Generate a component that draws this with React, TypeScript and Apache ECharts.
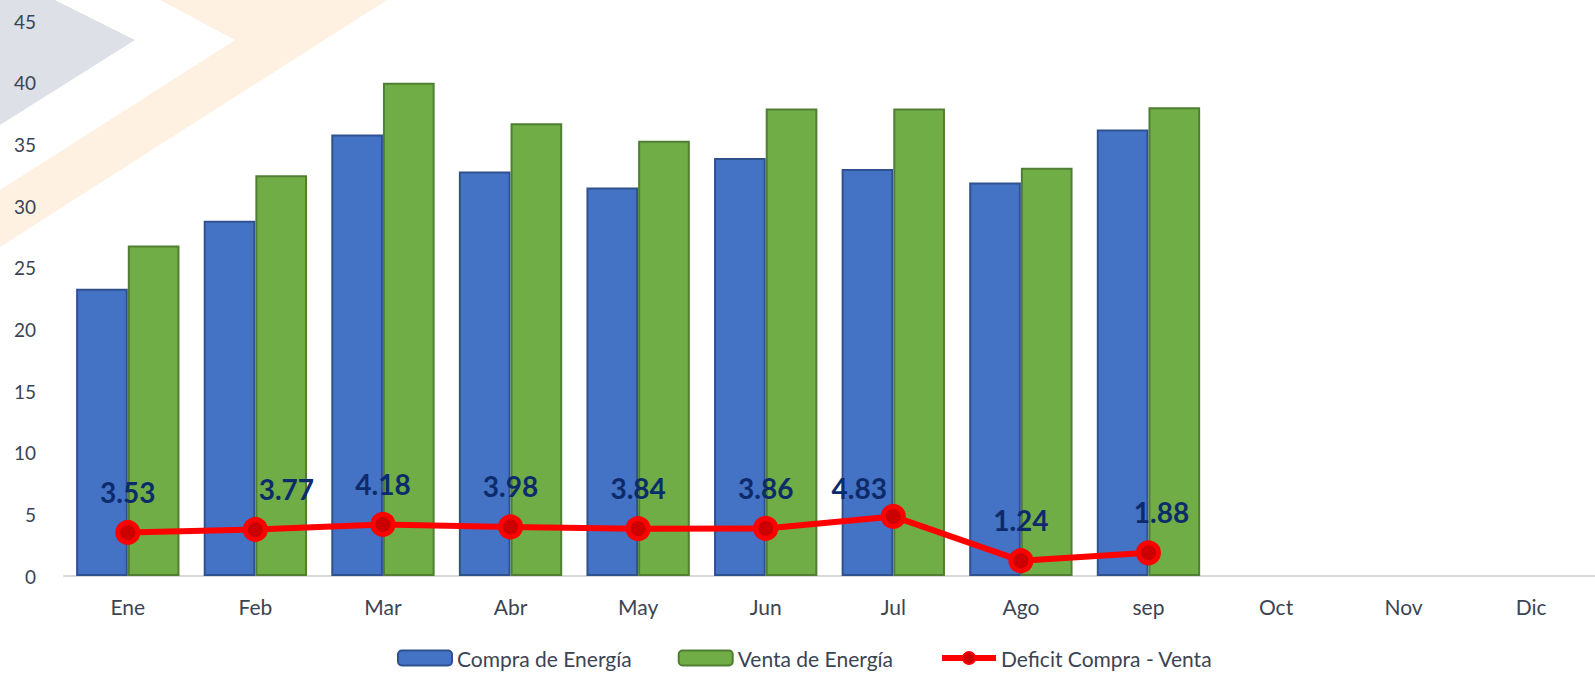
import React, { useEffect, useRef } from "react";
import * as echarts from "echarts";

const months = ["Ene", "Feb", "Mar", "Abr", "May", "Jun", "Jul", "Ago", "sep", "Oct", "Nov", "Dic"];
const compra = [23.3, 28.8, 35.8, 32.8, 31.5, 33.9, 33.0, 31.9, 36.2, null, null, null];
const venta = [26.8, 32.5, 40.0, 36.7, 35.3, 37.9, 37.9, 33.1, 38.0, null, null, null];
const deficit = [3.53, 3.77, 4.18, 3.98, 3.84, 3.86, 4.83, 1.24, 1.88, null, null, null];
const labelShift: [number, number][] = [[0, 0], [31, 0], [0, 0], [0, 0], [0, 0], [0, 0], [-34, 12], [0, 0], [13, 0]];
const yTicks = { min: 0, max: 45, interval: 5 };

export default function App() {
  const ref = useRef<HTMLDivElement>(null);
  useEffect(() => {
    if (!ref.current) return;
    const chart = echarts.init(ref.current, null, { renderer: "svg" });
    const font = "Lato, 'Open Sans', sans-serif";
    chart.setOption({
      animation: false,
      backgroundColor: "#ffffff",
      textStyle: { fontFamily: font },
      graphic: [
        {
          type: "polygon",
          z: -10,
          silent: true,
          shape: { points: [[0, 0], [55, 0], [135, 40], [0, 125]] },
          style: { fill: "#dde0e7" },
        },
        {
          type: "polygon",
          z: -10,
          silent: true,
          shape: { points: [[160, 0], [387, 0], [0, 247], [0, 190], [235, 40]] },
          style: { fill: "#fef1e2" },
        },
      ],
      grid: { left: 64, right: 0, top: 21, bottom: 97, containLabel: false },
      legend: {
        top: 647,
        left: 397,
        padding: 0,
        itemWidth: 54,
        itemHeight: 15,
        itemGap: 46,
        textStyle: { fontFamily: font, fontSize: 21, lineHeight: 22, color: "#3b4453" },
        data: [
          { name: "Compra de Energía" },
          { name: "Venta de Energía" },
          { name: "Deficit Compra - Venta", lineStyle: { width: 6, color: "#ff0000" } },
        ],
      },
      xAxis: {
        type: "category",
        data: months,
        axisLine: { lineStyle: { color: "#d9d9d9", width: 2 } },
        axisTick: { show: false },
        axisLabel: { color: "#3b4453", fontSize: 21, margin: 20, fontFamily: font },
      },
      yAxis: {
        type: "value",
        min: yTicks.min,
        max: yTicks.max,
        interval: yTicks.interval,
        splitLine: { show: false },
        axisLine: { show: false },
        axisTick: { show: false },
        axisLabel: { color: "#3b4453", fontSize: 19, margin: 28, fontFamily: font },
      },
      series: [
        {
          name: "Compra de Energía",
          type: "bar",
          data: compra,
          barGap: "0%",
          barCategoryGap: "19%",
          itemStyle: { color: "#4472c4", borderColor: "#2f528f", borderWidth: 2 },
        },
        {
          name: "Venta de Energía",
          type: "bar",
          data: venta,
          itemStyle: { color: "#70ad47", borderColor: "#507e32", borderWidth: 2 },
        },
        {
          name: "Deficit Compra - Venta",
          type: "line",
          z: 5,
          data: deficit.map((v, i) =>
            v == null ? null : { value: v, label: { offset: labelShift[i] || [0, 0] } }
          ),
          symbol: "circle",
          symbolSize: 20,
          lineStyle: { color: "#ff0000", width: 6 },
          itemStyle: { color: "#cc0000", borderColor: "#ff0000", borderWidth: 5 },
          label: {
            show: true,
            position: "top",
            distance: 14,
            fontFamily: font,
            fontWeight: "bold",
            fontSize: 28,
            color: "#0d2b6b",
            formatter: (p: any) => Number(p.value).toFixed(2),
          },
        },
      ],
    });
    return () => chart.dispose();
  }, []);
  return <div ref={ref} style={{ width: 1595, height: 673, position: "absolute", left: 0, top: 0 }} />;
}
